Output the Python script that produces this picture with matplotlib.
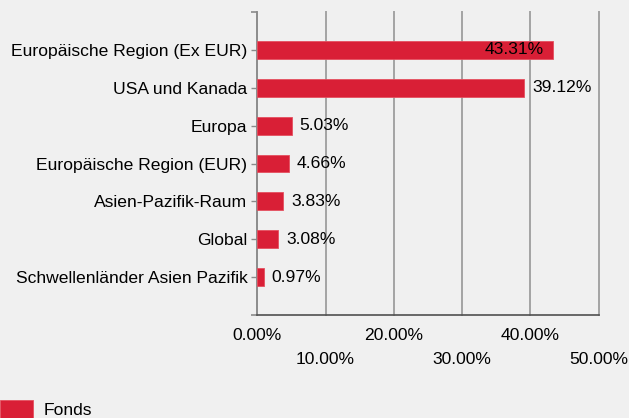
import matplotlib.pyplot as plt
from matplotlib.ticker import FuncFormatter

plt.rcParams['font.family'] = ['Liberation Sans', 'DejaVu Sans']
plt.rcParams['font.size'] = 12.6

# Regionen und Gewichtung des Fonds (in %)
regionen = ['Europäische Region (Ex EUR)', 'USA und Kanada', 'Europa',
            'Europäische Region (EUR)', 'Asien-Pazifik-Raum', 'Global',
            'Schwellenländer Asien Pazifik']
gewichte = [43.31, 39.12, 5.03, 4.66, 3.83, 3.08, 0.97]
x_ticks = [0, 10, 20, 30, 40, 50]

bg = '#f0f0f0'
rot = '#d91f36'

fig = plt.figure(figsize=(6.29, 4.18), dpi=100, facecolor=bg)
ax = fig.add_axes([0.409, 0.2464, 0.5428, 0.7249], facecolor=bg)

pos = list(range(len(regionen)))
bars = ax.barh(pos, gewichte, height=0.47, color=rot,
               edgecolor='#e4505f', linewidth=0.6, zorder=3)

ax.set_ylim(len(regionen), -1)
ax.set_xlim(0, 50)
ax.set_yticks(pos)
ax.set_yticklabels(regionen)
ax.set_xticks(x_ticks)
ax.xaxis.set_major_formatter(FuncFormatter(lambda v, p: f'{v:.2f}%'))

# Beschriftung der Balken: großer Wert innerhalb, sonst rechts daneben
for b, w in zip(bars, gewichte):
    y = b.get_y() + b.get_height() / 2
    if w > 40:
        ax.annotate(f'{w:.2f}%', (w, y), xytext=(-6.5, 0),
                    textcoords='offset points', ha='right', va='center',
                    color='black', zorder=4)
    else:
        ax.annotate(f'{w:.2f}%', (w, y), xytext=(5.5, 0),
                    textcoords='offset points', ha='left', va='center',
                    color='black', zorder=4)

# Gitter und Achsen
ax.grid(axis='x', color='#a3a3a3', linewidth=1.4, zorder=0)
for g in ax.get_xgridlines():
    g.set_clip_on(False)
for s in ['top', 'right']:
    ax.spines[s].set_visible(False)
ax.spines['left'].set_color('#8a8a8a')
ax.spines['left'].set_linewidth(1.2)
ax.spines['bottom'].set_color('#505050')
ax.spines['bottom'].set_linewidth(1.2)

ax.tick_params(axis='y', length=4.3, width=1, color='#8a8a8a', pad=2.9)
ax.set_yticks([-1, len(regionen)], minor=True)
ax.tick_params(axis='y', which='minor', length=4.3, width=1.2, color='#8a8a8a')
ax.tick_params(axis='x', length=0)

# versetzte x-Beschriftungen
for i, t in enumerate(ax.xaxis.get_major_ticks()):
    t.set_pad(9 if i % 2 == 0 else 26.5)

# Legende unten links
fig.legend(handles=[bars], labels=['Fonds'], loc='upper left',
           bbox_to_anchor=(0.0, 0.043), frameon=False, borderpad=0,
           borderaxespad=0, handlelength=1.9, handleheight=1.3,
           handletextpad=0.6)

fig.savefig('out.png', dpi=100, facecolor=bg)
